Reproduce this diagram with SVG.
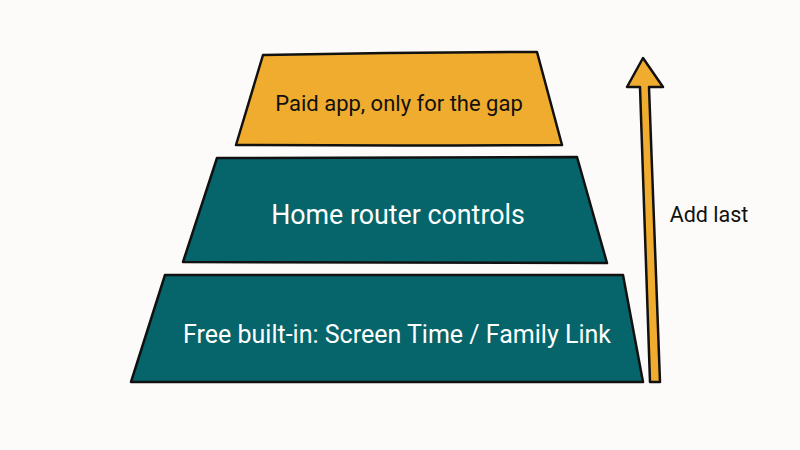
<svg xmlns="http://www.w3.org/2000/svg" width="800" height="450" viewBox="0 0 800 450">
<style>
.layer{stroke:#111;stroke-width:2.5;stroke-linejoin:round}
.orange{fill:#F0AC2E}
.teal{fill:#05656A}
text{font-family:Roboto,"Noto Sans","Liberation Sans",sans-serif;text-anchor:middle}
.dark{fill:#111}
.light{fill:#fff}
</style>
<rect width="800" height="450" fill="#FDFAFA"/>
<g id="paid-app">
<path class="layer orange" d="M263,55 Q400,52 537,52 L562,145 Q400,146 236,145 Z"/>
<text class="dark" x="399" y="111" font-size="22">Paid app, only for the gap</text>
</g>
<g id="home-router">
<path class="layer teal" d="M217,158 Q400,157 577,157 L607,263 Q400,262 183,262 Z"/>
<text class="light" x="398" y="224" font-size="26.8">Home router controls</text>
</g>
<g id="free-built-in">
<path class="layer teal" d="M165,275 Q400,276 623,275 L643,382 Q400,383 131,382 Z"/>
<text class="light" x="397" y="343" font-size="25">Free built-in: Screen Time / Family Link</text>
</g>
<g id="connectors">
<path class="layer orange" d="M650,382 L660,382 L649,87 L663,87 L643,58 L627,87 L640,87 Z"/>
</g>
<g id="label">
<text class="dark" x="709" y="222" font-size="21.5">Add last</text>
</g>
</svg>
